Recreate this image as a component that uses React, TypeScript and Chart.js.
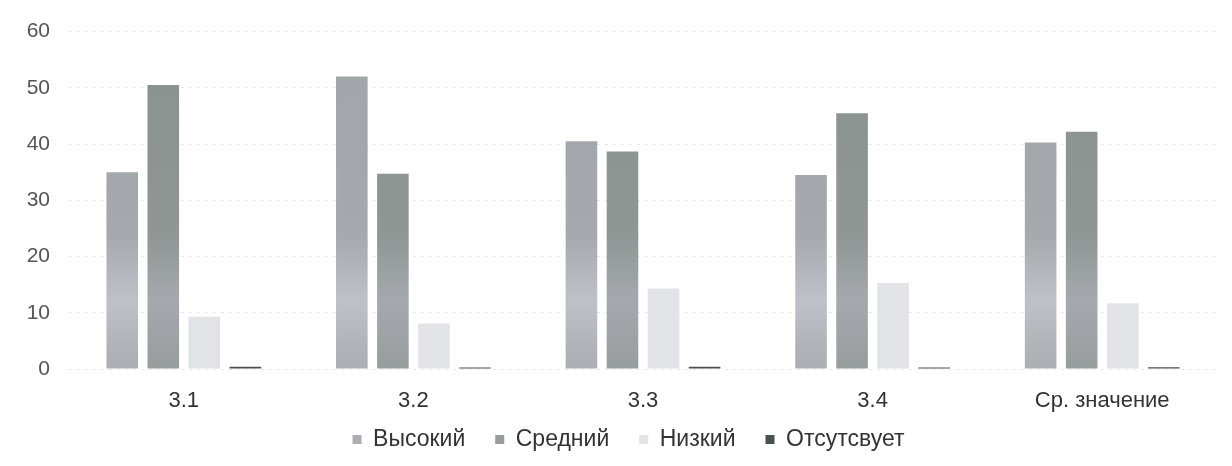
import React, { useEffect, useRef } from "react";
import { Chart, registerables } from "chart.js";

Chart.register(...registerables);

const categories = ["3.1", "3.2", "3.3", "3.4", "Ср. значение"];
const seriesNames = ["Высокий", "Средний", "Низкий", "Отсутсвует"];
const highValues = [35, 52, 40.5, 34.5, 40.3];
const mediumValues = [50.5, 34.7, 38.7, 45.5, 42.2];
const lowValues = [9.3, 8.1, 14.3, 15.3, 11.7];
const absentValues = [0.4, 0.25, 0.4, 0.25, 0.3];
const yTicks = [0, 10, 20, 30, 40, 50, 60];

const FONT = "Arial, 'Liberation Sans', sans-serif";

function gradient(stops: [number, string][], solid: string) {
  return (ctx: any) => {
    const chart = ctx.chart;
    const area = chart.chartArea;
    if (!area) return solid;
    const g = chart.ctx.createLinearGradient(0, area.top, 0, area.bottom);
    stops.forEach(([p, c]) => g.addColorStop(p, c));
    return g;
  };
}

const legendShift = {
  id: "legendShift",
  afterLayout(chart: any) {
    const lg = chart.legend;
    if (!lg) return;
    lg.top -= 19;
    lg.left += 20;
    lg.right += 20;
  },
};

export default function App() {
  const ref = useRef<HTMLCanvasElement | null>(null);
  useEffect(() => {
    if (!ref.current) return;
    const chart = new Chart(ref.current, {
      type: "bar",
      data: {
        labels: categories,
        datasets: [
          {
            label: seriesNames[0],
            data: highValues,
            backgroundColor: gradient(
              [
                [0, "#a0a5a8"],
                [0.6, "#a5a9ad"],
                [0.8, "#bec1c8"],
                [0.93, "#b0b4b8"],
                [1, "#abafb3"],
              ],
              "#a6aaae"
            ),
          },
          {
            label: seriesNames[1],
            data: mediumValues,
            backgroundColor: gradient(
              [
                [0, "#8a928f"],
                [0.6, "#8f9694"],
                [0.8, "#a5a9ae"],
                [1, "#979c9d"],
              ],
              "#8f9694"
            ),
          },
          {
            label: seriesNames[2],
            data: lowValues,
            backgroundColor: "#e2e3e7",
          },
          {
            label: seriesNames[3],
            data: absentValues,
            backgroundColor: "#4a524f",
          },
        ],
      },
      options: {
        responsive: false,
        animation: false,
        layout: { padding: { top: 27, right: 15, left: 0, bottom: 0 } },
        datasets: {
          bar: { categoryPercentage: 0.715, barPercentage: 0.77 },
        },
        scales: {
          x: {
            grid: { display: false, drawTicks: false },
            border: { display: false },
            ticks: {
              padding: 19,
              color: "#333",
              font: { family: FONT, size: 22 },
            },
            afterFit: (scale: any) => {
              scale.height = 48;
            },
          },
          y: {
            min: 0,
            max: 60,
            afterBuildTicks: (scale: any) => {
              scale.ticks = yTicks.map((v) => ({ value: v }));
            },
            grid: {
              color: "#e8e8e8",
              drawTicks: false,
            },
            border: { display: false, dash: [3, 5] },
            ticks: {
              padding: 19,
              color: "#555",
              font: { family: FONT, size: 21 },
            },
            afterFit: (scale: any) => {
              scale.width = 69;
            },
          },
        },
        plugins: {
          legend: {
            position: "bottom",
            maxHeight: 49,
            labels: {
              boxWidth: 9,
              boxHeight: 9,
              padding: 30,
              color: "#333",
              font: { family: FONT, size: 23 },
            },
          },
          tooltip: { enabled: false },
        },
      },
      plugins: [legendShift],
    } as any);
    return () => chart.destroy();
  }, []);
  return (
    <div style={{ position: "fixed", left: 0, top: 0, width: 1232, height: 466, background: "#fff" }}>
      <canvas ref={ref} width={1232} height={466} />
    </div>
  );
}
